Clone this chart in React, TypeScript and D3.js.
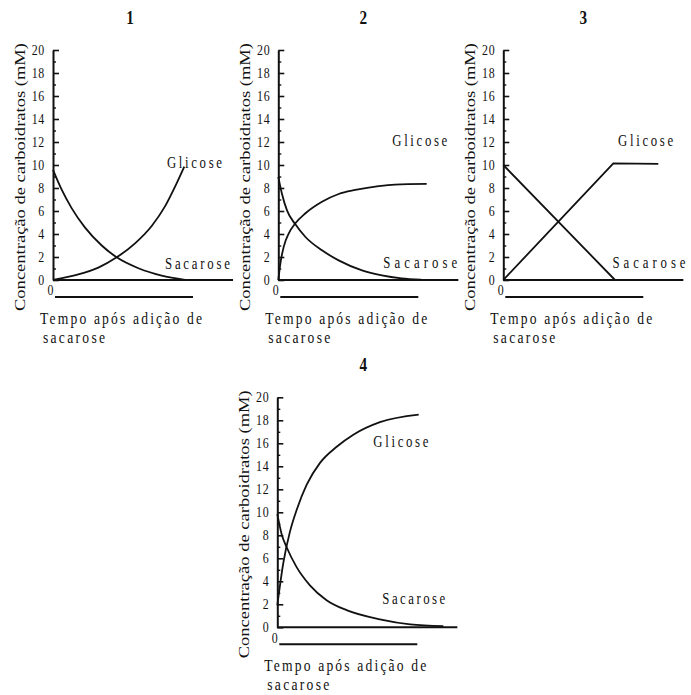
import React, { useEffect, useRef } from "react";
import * as d3 from "d3";

// Tick values on the concentration axis
const yMajorTicks = [0, 2, 4, 6, 8, 10, 12, 14, 16, 18, 20];
const yMinorTicks = [1, 3, 5, 7, 9, 11, 13, 15, 17, 19];

const panelTitles = ["1", "2", "3", "4"];
const yTitle = "Concentração de carboidratos (mM)";
const xTitle1 = "Tempo após adição de";
const xTitle2 = "sacarose";
const glicoseName = "Glicose";
const sacaroseName = "Sacarose";

// [time, mM]
const glicose1: [number, number][] = [
  [0, 0], [1.81, 0.48], [3.24, 1.08], [4.55, 1.97], [5.86, 3.19],
  [7.05, 4.7], [8.0, 6.4], [8.83, 8.4], [9.38, 9.86],
];
const sacarose1: [number, number][] = [
  [0, 9.57], [0.62, 7.85], [1.33, 6.25], [2.29, 4.55], [3.48, 3.0],
  [4.55, 1.97], [6.1, 1.02], [7.76, 0.38], [9.43, 0.02],
];
const glicose2: [number, number][] = [
  [0, 0], [0.15, 1.45], [0.39, 2.9], [0.75, 4.06], [1.22, 4.93], [1.94, 5.8],
  [3.12, 6.8], [4.31, 7.48], [5.5, 7.83], [7.17, 8.17], [8.33, 8.3], [10.6, 8.35],
];
const sacarose2: [number, number][] = [
  [0, 8.97], [0.26, 7.5], [0.62, 6.05], [1.22, 4.84], [1.94, 3.74], [3.12, 2.58],
  [4.31, 1.71], [5.98, 0.84], [7.4, 0.41], [8.8, 0.15], [10.2, 0.02],
];
const glicose3: [number, number][] = [[0, 0], [7.86, 10.15], [11.07, 10.1]];
const sacarose3: [number, number][] = [[0, 10], [7.98, 0], [12.8, 0]];
const glicose4: [number, number][] = [
  [0, 1.9], [0.43, 5.6], [0.9, 8.3], [1.38, 10.2], [2.1, 12.4], [3.05, 14.3],
  [4.24, 15.7], [5.43, 16.75], [7.33, 17.84], [10.1, 18.5],
];
const sacarose4: [number, number][] = [
  [0, 9.84], [0.31, 8.1], [0.67, 6.96], [1.38, 5.23], [2.33, 3.65],
  [3.52, 2.36], [4.95, 1.49], [7.33, 0.69], [9.5, 0.25], [11.86, 0.1],
];

const glicoseSeries = [glicose1, glicose2, glicose3, glicose4];
const sacaroseSeries = [sacarose1, sacarose2, sacarose3, sacarose4];

// where each little plot sits on the page (axis origin) and where its labels go
const layout = [
  { ax: 53, y0: 280, titleDx: 77, glcLabel: [8.14, 9.74], sacLabel: [8.0, 0.96], sacW: 65 },
  { ax: 278.3, y0: 280, titleDx: 85, glcLabel: [8.14, 11.65], sacLabel: [7.5, 1.04], sacW: 74 },
  { ax: 503.3, y0: 280, titleDx: 80, glcLabel: [8.2, 11.65], sacLabel: [7.8, 1.04], sacW: 73 },
  { ax: 277.3, y0: 627.3, titleDx: 86, glcLabel: [6.86, 15.7], sacLabel: [7.5, 2.0], sacW: 63 },
];

const FONT = "'Liberation Serif', 'Times New Roman', serif";
const SX = 0.8; // narrow glyphs like the scanned figure

export default function App() {
  const ref = useRef<SVGSVGElement>(null);

  useEffect(() => {
    if (!ref.current) return;
    const svg = d3.select(ref.current);
    svg.selectAll("*").remove();

    const narrowText = (
      g: d3.Selection<SVGGElement, unknown, null, undefined>,
      x: number,
      y: number,
      str: string,
      size: number,
      width: number
    ) =>
      g
        .append("text")
        .attr("transform", `translate(${x},${y}) scale(${SX},1)`)
        .attr("font-size", size)
        .attr("textLength", width / SX)
        .attr("lengthAdjust", "spacing")
        .attr("fill", "#111")
        .text(str);

    layout.forEach((L, i) => {
      const g = svg.append("g").attr("font-family", FONT);

      const x = d3.scaleLinear().domain([0, 10]).range([L.ax, L.ax + 140]);
      const y = d3.scaleLinear().domain([0, 20]).range([L.y0, L.y0 - 230]);

      // title number
      g.append("text")
        .attr("transform", `translate(${L.ax + L.titleDx},${L.y0 - 256}) scale(${SX},1)`)
        .attr("text-anchor", "middle")
        .attr("font-size", 19)
        .attr("font-weight", "bold")
        .attr("fill", "#111")
        .text(panelTitles[i]);

      // y axis with inward ticks
      const yAxis = g
        .append("g")
        .attr("transform", `translate(${L.ax},0)`)
        .call(
          d3.axisLeft(y).tickValues(yMajorTicks).tickSizeInner(-6).tickSizeOuter(0).tickPadding(8).tickFormat(d3.format("d"))
        );
      yAxis.attr("font-size", null).attr("font-family", null);
      yAxis.select(".domain").attr("stroke", "#111").attr("stroke-width", 2);
      yAxis.selectAll(".tick line").attr("stroke", "#111").attr("stroke-width", 1.6);
      yAxis
        .selectAll(".tick text")
        .attr("font-family", FONT)
        .attr("font-size", 14)
        .attr("letter-spacing", 0.8)
        .attr("x", -8 / 0.85)
        .attr("transform", "scale(0.85,1)")
        .attr("fill", "#111");

      const yMinor = g
        .append("g")
        .attr("transform", `translate(${L.ax},0)`)
        .call(d3.axisLeft(y).tickValues(yMinorTicks).tickSize(-3).tickFormat(() => ""));
      yMinor.select(".domain").remove();
      yMinor.selectAll(".tick line").attr("stroke", "#111").attr("stroke-width", 1.4);

      // x axis line
      g.append("line")
        .attr("x1", x(0))
        .attr("x2", x(12.86))
        .attr("y1", y(0))
        .attr("y2", y(0))
        .attr("stroke", "#111")
        .attr("stroke-width", 2);

      // "0" under the origin and the time bar
      g.append("text")
        .attr("transform", `translate(${x(0) - 2.5},${y(0) + 11}) scale(0.85,1)`)
        .attr("dy", "0.32em")
        .attr("text-anchor", "middle")
        .attr("font-size", 14)
        .attr("fill", "#111")
        .text("0");
      g.append("line")
        .attr("x1", x(0) + 2)
        .attr("x2", x(10))
        .attr("y1", y(0) + 17)
        .attr("y2", y(0) + 17)
        .attr("stroke", "#111")
        .attr("stroke-width", 2);

      // axis titles
      g.append("text")
        .attr("transform", `translate(${L.ax - 28},${L.y0 - 103}) rotate(-90)`)
        .attr("text-anchor", "middle")
        .attr("font-size", 14.5)
        .attr("textLength", 268)
        .attr("lengthAdjust", "spacingAndGlyphs")
        .attr("fill", "#111")
        .text(yTitle);
      narrowText(g, L.ax - 13, L.y0 + 44, xTitle1, 17, 162);
      narrowText(g, L.ax - 10, L.y0 + 63, xTitle2, 17, 62);

      // curves
      const lineGen = d3
        .line<[number, number]>()
        .x((d) => x(d[0]))
        .y((d) => y(d[1]))
        .curve(i === 2 ? d3.curveLinear : d3.curveMonotoneX);

      [glicoseSeries[i], sacaroseSeries[i]].forEach((s) => {
        g.append("path")
          .datum(s)
          .attr("fill", "none")
          .attr("stroke", "#111")
          .attr("stroke-width", 1.8)
          .attr("stroke-linejoin", "round")
          .attr("d", lineGen);
      });

      narrowText(g, x(L.glcLabel[0]), y(L.glcLabel[1]), glicoseName, 16, 55);
      narrowText(g, x(L.sacLabel[0]), y(L.sacLabel[1]), sacaroseName, 16, L.sacW);
    });
  }, []);

  return (
    <svg
      ref={ref}
      width={691}
      height={695}
      style={{ position: "absolute", left: 0, top: 0, background: "#fff" }}
    />
  );
}
